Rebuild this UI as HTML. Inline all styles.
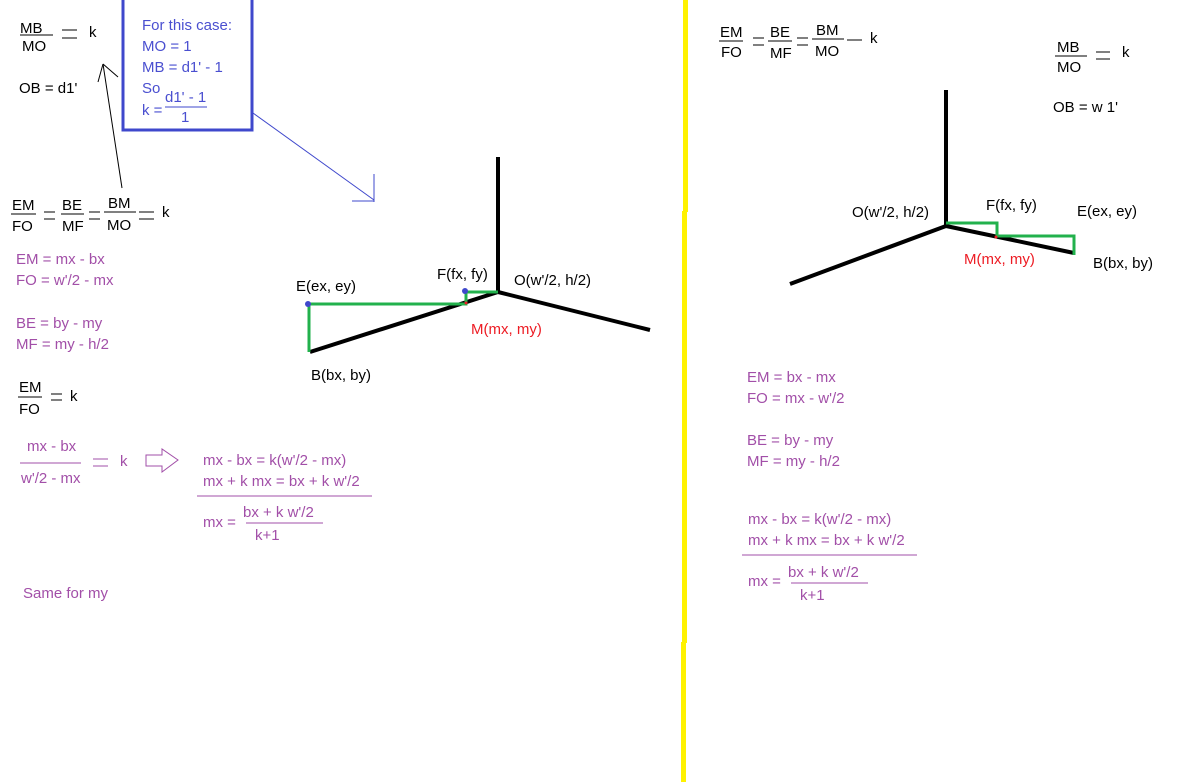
<!DOCTYPE html>
<html><head><meta charset="utf-8"><style>
html,body{margin:0;padding:0;background:#fff;}
svg{display:block;}
text{font-family:"Liberation Sans",sans-serif;font-size:15px;fill:#000;}
.p{fill:#a24fa8;}
.b{fill:#4a4fd0;}
.r{fill:#ed1c24;}
</style></head><body>
<svg width="1192" height="782" viewBox="0 0 1192 782" xmlns="http://www.w3.org/2000/svg">
<rect x="683" y="0" width="5" height="212" fill="#fff200"/>
<rect x="682" y="211" width="5" height="432" fill="#fff200"/>
<rect x="681" y="642" width="5" height="140" fill="#fff200"/>

<text x="20" y="33">MB</text><line x1="20" y1="35" x2="53" y2="35" stroke="#000"/><text x="22" y="51">MO</text>
<line x1="62" y1="30" x2="77" y2="30" stroke="#000"/><line x1="62" y1="38" x2="77" y2="38" stroke="#000"/>
<text x="89" y="37">k</text>
<text x="19" y="93">OB =  d1'</text>
<line x1="122" y1="188" x2="103" y2="64" stroke="#000"/>
<line x1="103" y1="64" x2="98" y2="82" stroke="#000"/>
<line x1="103" y1="64" x2="118" y2="77" stroke="#000"/>

<rect x="123" y="-5" width="129" height="135" fill="none" stroke="#3f48cc" stroke-width="3"/>
<text class="b" x="142" y="30">For this case:</text>
<text class="b" x="142" y="51">MO = 1</text>
<text class="b" x="142" y="72">MB = d1' - 1</text>
<text class="b" x="142" y="93">So</text>
<text class="b" x="142" y="115">k =</text>
<text class="b" x="165" y="102">d1' - 1</text>
<line x1="165" y1="107" x2="207" y2="107" stroke="#3f48cc"/>
<text class="b" x="181" y="122">1</text>
<line x1="253" y1="113" x2="374" y2="200" stroke="#3f48cc"/>
<line x1="374" y1="174" x2="374" y2="202" stroke="#3f48cc"/>
<line x1="352" y1="201" x2="374" y2="201" stroke="#3f48cc"/>

<text x="12" y="210">EM</text><line x1="11" y1="214" x2="36" y2="214" stroke="#000"/><text x="12" y="231">FO</text>
<line x1="44" y1="212" x2="55" y2="212" stroke="#000"/><line x1="44" y1="219" x2="55" y2="219" stroke="#000"/>
<text x="62" y="210">BE</text><line x1="61" y1="214" x2="84" y2="214" stroke="#000"/><text x="62" y="231">MF</text>
<line x1="89" y1="212" x2="100" y2="212" stroke="#000"/><line x1="89" y1="219" x2="100" y2="219" stroke="#000"/>
<text x="108" y="208">BM</text><line x1="104" y1="212" x2="136" y2="212" stroke="#000"/><text x="107" y="230">MO</text>
<line x1="139" y1="212" x2="154" y2="212" stroke="#000"/><line x1="139" y1="219" x2="154" y2="219" stroke="#000"/>
<text x="162" y="217">k</text>

<text class="p" x="16" y="264">EM = mx - bx</text>
<text class="p" x="16" y="285">FO = w'/2 - mx</text>
<text class="p" x="16" y="328">BE = by - my</text>
<text class="p" x="16" y="349">MF = my - h/2</text>

<text x="19" y="392">EM</text><line x1="18" y1="397" x2="42" y2="397" stroke="#000"/><text x="19" y="414">FO</text>
<line x1="51" y1="394" x2="62" y2="394" stroke="#000"/><line x1="51" y1="400" x2="62" y2="400" stroke="#000"/>
<text x="70" y="401">k</text>

<text class="p" x="27" y="451">mx - bx</text>
<line x1="20" y1="463" x2="81" y2="463" stroke="#a24fa8"/>
<text class="p" x="21" y="483">w'/2 - mx</text>
<line x1="93" y1="459" x2="108" y2="459" stroke="#a24fa8"/><line x1="93" y1="466" x2="108" y2="466" stroke="#a24fa8"/>
<text class="p" x="120" y="466">k</text>
<polygon points="146,455 162,455 162,449 178,460 162,472 162,466 146,466" fill="none" stroke="#a24fa8"/>

<text class="p" x="203" y="465">mx - bx = k(w'/2 - mx)</text>
<text class="p" x="203" y="486">mx + k mx = bx + k w'/2</text>
<line x1="197" y1="496" x2="372" y2="496" stroke="#a24fa8"/>
<text class="p" x="203" y="527">mx =</text>
<text class="p" x="243" y="517">bx + k w'/2</text>
<line x1="246" y1="523" x2="323" y2="523" stroke="#a24fa8"/>
<text class="p" x="255" y="540">k+1</text>
<text class="p" x="23" y="598">Same for my</text>

<line x1="498" y1="157" x2="498" y2="293" stroke="#000" stroke-width="4"/>
<line x1="498" y1="292" x2="650" y2="330" stroke="#000" stroke-width="4"/>
<line x1="498" y1="292" x2="310" y2="352" stroke="#000" stroke-width="4"/>
<polyline points="309,352 309,304 466,304 466,292 498,292" fill="none" stroke="#22b14c" stroke-width="3"/>
<circle cx="308" cy="304" r="3" fill="#3f48cc"/>
<circle cx="465" cy="291" r="3" fill="#3f48cc"/>
<circle cx="466" cy="303" r="1.5" fill="#ed1c24"/>
<text x="296" y="291">E(ex, ey)</text>
<text x="437" y="279">F(fx, fy)</text>
<text x="514" y="285">O(w'/2, h/2)</text>
<text class="r" x="471" y="334">M(mx, my)</text>
<text x="311" y="380">B(bx, by)</text>

<text x="720" y="37">EM</text><line x1="719" y1="41" x2="743" y2="41" stroke="#000"/><text x="721" y="57">FO</text>
<line x1="753" y1="38" x2="764" y2="38" stroke="#000"/><line x1="753" y1="45" x2="764" y2="45" stroke="#000"/>
<text x="770" y="37">BE</text><line x1="768" y1="41" x2="792" y2="41" stroke="#000"/><text x="770" y="58">MF</text>
<line x1="797" y1="38" x2="808" y2="38" stroke="#000"/><line x1="797" y1="45" x2="808" y2="45" stroke="#000"/>
<text x="816" y="35">BM</text><line x1="812" y1="39" x2="844" y2="39" stroke="#000"/><text x="815" y="56">MO</text>
<line x1="847" y1="40" x2="862" y2="40" stroke="#000"/>
<text x="870" y="43">k</text>

<text x="1057" y="52">MB</text><line x1="1055" y1="56" x2="1087" y2="56" stroke="#000"/><text x="1057" y="72">MO</text>
<line x1="1096" y1="52" x2="1110" y2="52" stroke="#000"/><line x1="1096" y1="59" x2="1110" y2="59" stroke="#000"/>
<text x="1122" y="57">k</text>
<text x="1053" y="112">OB = w 1'</text>

<line x1="946" y1="90" x2="946" y2="228" stroke="#000" stroke-width="4"/>
<line x1="946" y1="226" x2="790" y2="284" stroke="#000" stroke-width="4"/>
<line x1="946" y1="226" x2="1074" y2="253" stroke="#000" stroke-width="4"/>
<polyline points="946,223 997,223 997,236 1074,236 1074,255" fill="none" stroke="#22b14c" stroke-width="3"/>
<circle cx="996" cy="237" r="1.5" fill="#ed1c24"/>
<text x="852" y="217">O(w'/2, h/2)</text>
<text x="986" y="210">F(fx, fy)</text>
<text x="1077" y="216">E(ex, ey)</text>
<text class="r" x="964" y="264">M(mx, my)</text>
<text x="1093" y="268">B(bx, by)</text>

<text class="p" x="747" y="382">EM = bx - mx</text>
<text class="p" x="747" y="403">FO = mx - w'/2</text>
<text class="p" x="747" y="445">BE = by - my</text>
<text class="p" x="747" y="466">MF = my - h/2</text>
<text class="p" x="748" y="524">mx - bx = k(w'/2 - mx)</text>
<text class="p" x="748" y="545">mx + k mx = bx + k w'/2</text>
<line x1="742" y1="555" x2="917" y2="555" stroke="#a24fa8"/>
<text class="p" x="748" y="586">mx =</text>
<text class="p" x="788" y="577">bx + k w'/2</text>
<line x1="791" y1="583" x2="868" y2="583" stroke="#a24fa8"/>
<text class="p" x="800" y="600">k+1</text>
</svg>
</body></html>
